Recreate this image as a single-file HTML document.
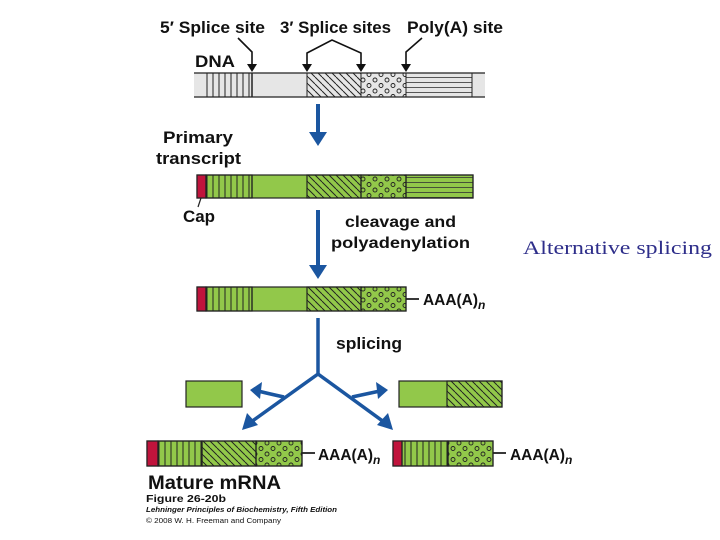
<!DOCTYPE html>
<html><head><meta charset="utf-8"><style>
html,body{margin:0;padding:0;background:#fff;width:720px;height:540px;overflow:hidden}
svg text{font-family:"Liberation Sans",sans-serif;font-weight:bold;fill:#111}
</style></head><body>
<svg width="720" height="540" viewBox="0 0 720 540" xmlns="http://www.w3.org/2000/svg">
<defs>
<pattern id="vs" width="6" height="10" patternUnits="userSpaceOnUse"><line x1="3" y1="0" x2="3" y2="10" stroke="#222" stroke-width="1"/></pattern>
<pattern id="hs" width="10" height="5" patternUnits="userSpaceOnUse"><line x1="0" y1="2.5" x2="10" y2="2.5" stroke="#333" stroke-width="0.8"/></pattern>
<pattern id="dg" width="7" height="7" patternUnits="userSpaceOnUse"><line x1="0" y1="0" x2="7" y2="7" stroke="#222" stroke-width="1"/><line x1="-7" y1="0" x2="0" y2="7" stroke="#222"/><line x1="7" y1="0" x2="14" y2="7" stroke="#222"/></pattern>
<pattern id="dt" width="12" height="11" patternUnits="userSpaceOnUse"><circle cx="3" cy="3" r="2" fill="none" stroke="#222" stroke-width="0.9"/><circle cx="9" cy="8.5" r="2" fill="none" stroke="#222" stroke-width="0.9"/></pattern>
</defs>

<text x="160" y="33" font-size="17" textLength="105" lengthAdjust="spacingAndGlyphs">5′ Splice site</text>
<text x="280" y="33" font-size="17" textLength="111" lengthAdjust="spacingAndGlyphs">3′ Splice sites</text>
<text x="407" y="33" font-size="17" textLength="96" lengthAdjust="spacingAndGlyphs">Poly(A) site</text>
<text x="195" y="67" font-size="17" textLength="40" lengthAdjust="spacingAndGlyphs">DNA</text>
<g stroke="#111" stroke-width="1.6" fill="none">
<polyline points="238,38 252,52 252,68"/>
<polyline points="307,68 307,53 332,40 361,53 361,68"/>
<polyline points="422,38 406,52 406,68" />
</g>
<g fill="#111"><path d="M247,64 L257,64 L252,72z"/><path d="M302,64 L312,64 L307,72z"/><path d="M356,64 L366,64 L361,72z"/><path d="M401,64 L411,64 L406,72z"/></g>

<rect x="194" y="73" width="291" height="24" fill="#e6e6e6"/>
<line x1="194" y1="73" x2="485" y2="73" stroke="#222" stroke-width="1.3"/>
<line x1="194" y1="97" x2="485" y2="97" stroke="#222" stroke-width="1.3"/>
<rect x="205" y="73" width="47" height="24" fill="url(#vs)"/>
<line x1="252" y1="73" x2="252" y2="97" stroke="#222" stroke-width="1.5"/>
<rect x="307" y="73" width="54" height="24" fill="url(#dg)" stroke="#222"/>
<rect x="361" y="73" width="45" height="24" fill="url(#dt)" stroke="#222"/>
<rect x="406" y="73" width="66" height="24" fill="url(#hs)" stroke="#222"/>

<line x1="318" y1="104" x2="318" y2="135" stroke="#1b56a0" stroke-width="4"/>
<path d="M309,132 L327,132 L318,146z" fill="#1b56a0"/>

<text x="163" y="143" font-size="17" textLength="70" lengthAdjust="spacingAndGlyphs">Primary</text>
<text x="156" y="164" font-size="17" textLength="85" lengthAdjust="spacingAndGlyphs">transcript</text>

<g stroke="#222" stroke-width="1.2">
<rect x="197" y="175" width="276" height="23" fill="#92c84a"/>
<rect x="197" y="175" width="9" height="23" fill="#c0143c"/>
<rect x="206" y="175" width="46" height="23" fill="url(#vs)"/>
<rect x="307" y="175" width="54" height="23" fill="url(#dg)"/>
<rect x="361" y="175" width="45" height="23" fill="url(#dt)"/>
<rect x="406" y="175" width="67" height="23" fill="url(#hs)"/>
<line x1="252" y1="175" x2="252" y2="198"/>
</g>
<line x1="201" y1="198" x2="198" y2="207" stroke="#222" stroke-width="1.2"/>
<text x="183" y="222" font-size="17" textLength="32" lengthAdjust="spacingAndGlyphs">Cap</text>

<line x1="318" y1="210" x2="318" y2="267" stroke="#1b56a0" stroke-width="4"/>
<path d="M309,265 L327,265 L318,279z" fill="#1b56a0"/>
<text x="345" y="227" font-size="16" textLength="111" lengthAdjust="spacingAndGlyphs">cleavage and</text>
<text x="331" y="248" font-size="16" textLength="139" lengthAdjust="spacingAndGlyphs">polyadenylation</text>

<g stroke="#222" stroke-width="1.2">
<rect x="197" y="287" width="209" height="24" fill="#92c84a"/>
<rect x="197" y="287" width="9" height="24" fill="#c0143c"/>
<rect x="206" y="287" width="46" height="24" fill="url(#vs)"/>
<rect x="307" y="287" width="54" height="24" fill="url(#dg)"/>
<rect x="361" y="287" width="45" height="24" fill="url(#dt)"/>
<line x1="252" y1="287" x2="252" y2="311"/>
<line x1="406" y1="299" x2="419" y2="299" stroke-width="1.8"/>
</g>
<text x="423" y="305" font-size="16"><tspan textLength="55" lengthAdjust="spacingAndGlyphs">AAA(A)</tspan><tspan font-size="12" font-style="italic" dy="4">n</tspan></text>

<text x="336" y="349" font-size="17" textLength="66" lengthAdjust="spacingAndGlyphs">splicing</text>
<g stroke="#1b56a0" stroke-width="3.5" fill="none">
<polyline points="318,318 318,374 251,422"/>
<polyline points="318,374 384,422"/>
<path d="M284,397 Q270,394 258,391"/>
<path d="M352,397 Q366,394 380,391"/>
</g>
<path d="M242,430 L247,413 L258,425z" fill="#1b56a0"/>
<path d="M393,430 L377,425 L388,413z" fill="#1b56a0"/>
<path d="M250,390 L262,382 L260,399z" fill="#1b56a0"/>
<path d="M388,390 L376,382 L378,399z" fill="#1b56a0"/>

<rect x="186" y="381" width="56" height="26" fill="#92c84a" stroke="#222" stroke-width="1.2"/>
<rect x="399" y="381" width="103" height="26" fill="#92c84a" stroke="#222" stroke-width="1.2"/>
<rect x="447" y="381" width="55" height="26" fill="url(#dg)" stroke="#222" stroke-width="1.2"/>

<g stroke="#222" stroke-width="1.2">
<rect x="147" y="441" width="155" height="25" fill="#92c84a"/>
<rect x="147" y="441" width="11" height="25" fill="#c0143c"/>
<rect x="158" y="441" width="44" height="25" fill="url(#vs)"/>
<rect x="202" y="441" width="54" height="25" fill="url(#dg)"/>
<rect x="256" y="441" width="46" height="25" fill="url(#dt)"/>
<line x1="302" y1="453" x2="315" y2="453" stroke-width="1.8"/>
</g>
<text x="318" y="460" font-size="16"><tspan textLength="55" lengthAdjust="spacingAndGlyphs">AAA(A)</tspan><tspan font-size="12" font-style="italic" dy="4">n</tspan></text>
<g stroke="#222" stroke-width="1.2">
<rect x="393" y="441" width="100" height="25" fill="#92c84a"/>
<rect x="393" y="441" width="9" height="25" fill="#c0143c"/>
<rect x="402" y="441" width="46" height="25" fill="url(#vs)"/>
<rect x="448" y="441" width="45" height="25" fill="url(#dt)"/>
<line x1="493" y1="453" x2="506" y2="453" stroke-width="1.8"/>
</g>
<text x="510" y="460" font-size="16"><tspan textLength="55" lengthAdjust="spacingAndGlyphs">AAA(A)</tspan><tspan font-size="12" font-style="italic" dy="4">n</tspan></text>

<text x="148" y="489" font-size="19" textLength="133" lengthAdjust="spacingAndGlyphs">Mature mRNA</text>
<text x="146" y="502" font-size="10.5" textLength="80" lengthAdjust="spacingAndGlyphs">Figure 26-20b</text>
<text x="146" y="512" font-size="7.5" font-style="italic" textLength="191" lengthAdjust="spacingAndGlyphs">Lehninger Principles of Biochemistry, Fifth Edition</text>
<text x="146" y="523" font-size="7.5" style="font-weight:normal" textLength="135" lengthAdjust="spacingAndGlyphs">© 2008 W. H. Freeman and Company</text>

<text x="523" y="254" font-size="19" textLength="189" lengthAdjust="spacingAndGlyphs" style="font-family:'Liberation Serif',serif;font-weight:normal;fill:#2e2e8a">Alternative splicing</text>
</svg>
</body></html>
